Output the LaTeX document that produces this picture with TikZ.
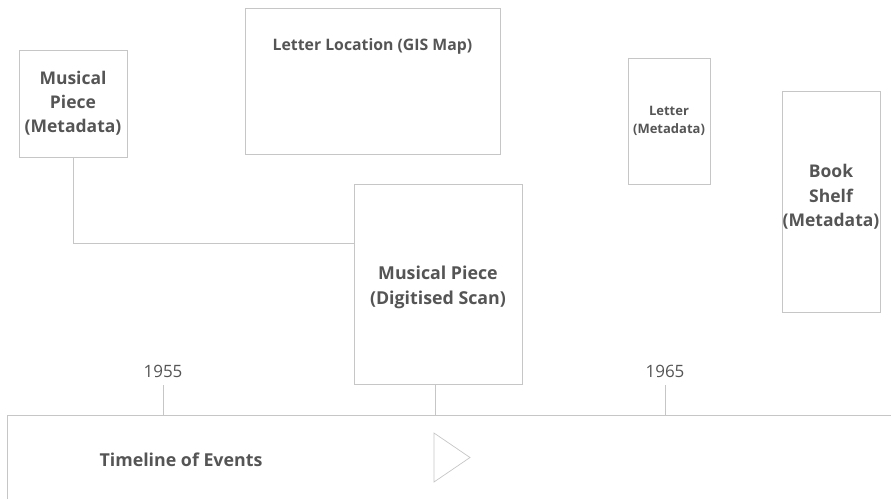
\documentclass[tikz,border=0pt]{standalone}
\usepackage{fontspec}
\setmainfont{Open Sans}
\definecolor{linegray}{HTML}{C6C6C6}
\definecolor{textgray}{HTML}{555555}
\tikzset{
  itembox/.style={draw=linegray, line width=0.9pt, rectangle, inner sep=0pt,
    align=center, text=textgray, font=\bfseries\fontsize{17.5}{24}\selectfont},
  yearlabel/.style={text=textgray, font=\fontsize{17}{20}\selectfont},
  link/.style={draw=linegray, line width=0.9pt}
}
\begin{document}
\begin{tikzpicture}[x=1pt, y=-1pt]
    \useasboundingbox (0,0) rectangle (891,499);

    % Items
    \node[itembox, minimum width=108pt, minimum height=107pt] (pieceMeta) at (73,103.5) {Musical\\Piece\\(Metadata)};
    \node[itembox, minimum width=255pt, minimum height=146pt,
      label={[name=gisText, anchor=center, yshift=-38.5pt, text=textgray,
        font=\bfseries\fontsize{15.8}{20}\selectfont]north:Letter Location (GIS Map)}] (gisMap) at (372.5,81) {};
    \node[itembox, minimum width=82pt, minimum height=126pt, font=\bfseries\fontsize{13}{18}\selectfont] (letterMeta) at (669,121) {Letter\\(Metadata)};
    \node[itembox, minimum width=98pt, minimum height=221pt, font=\bfseries\fontsize{17.5}{24.5}\selectfont,
      text depth=12pt] (shelfMeta) at (831,201.5) {Book\\Shelf\\(Metadata)};
    \node[itembox, minimum width=168pt, minimum height=200pt, font=\bfseries\fontsize{17.8}{25}\selectfont,
      text height=45pt] (pieceScan) at (438,284) {Musical Piece\\(Digitised Scan)};

    % Link between the two musical pieces
    \draw[link] (pieceMeta.south) |- ([yshift=41pt]pieceScan.west);

    % Timeline
    \coordinate (tlStart) at (7,499);
    \coordinate (tlCorner) at (7,415);
    \coordinate (tlEnd) at (891,415);
    \draw[link] (tlStart) -- (tlCorner) -- (tlEnd);
    \node[text=textgray, font=\bfseries\fontsize{17.8}{20}\selectfont] (tlTitle) at (181,460) {Timeline of Events};
    \draw[link, line width=0.7pt] (434,433) -- (434,482) -- (470,457.5) -- cycle;

    % Years
    \node[yearlabel] (y1955) at (163,371) {1955};
    \node[yearlabel] (y1965) at (665,371) {1965};
    \coordinate (tick1955) at (163,385);
    \coordinate (tick1965) at (665,385);
    \draw[link] (tick1955) -- (tick1955 |- tlEnd);
    \draw[link] (tick1965) -- (tick1965 |- tlEnd);
    \draw[link] ([xshift=-3pt]pieceScan.south) -- ([xshift=-3pt]pieceScan.south |- tlEnd);
\end{tikzpicture}
\end{document}
